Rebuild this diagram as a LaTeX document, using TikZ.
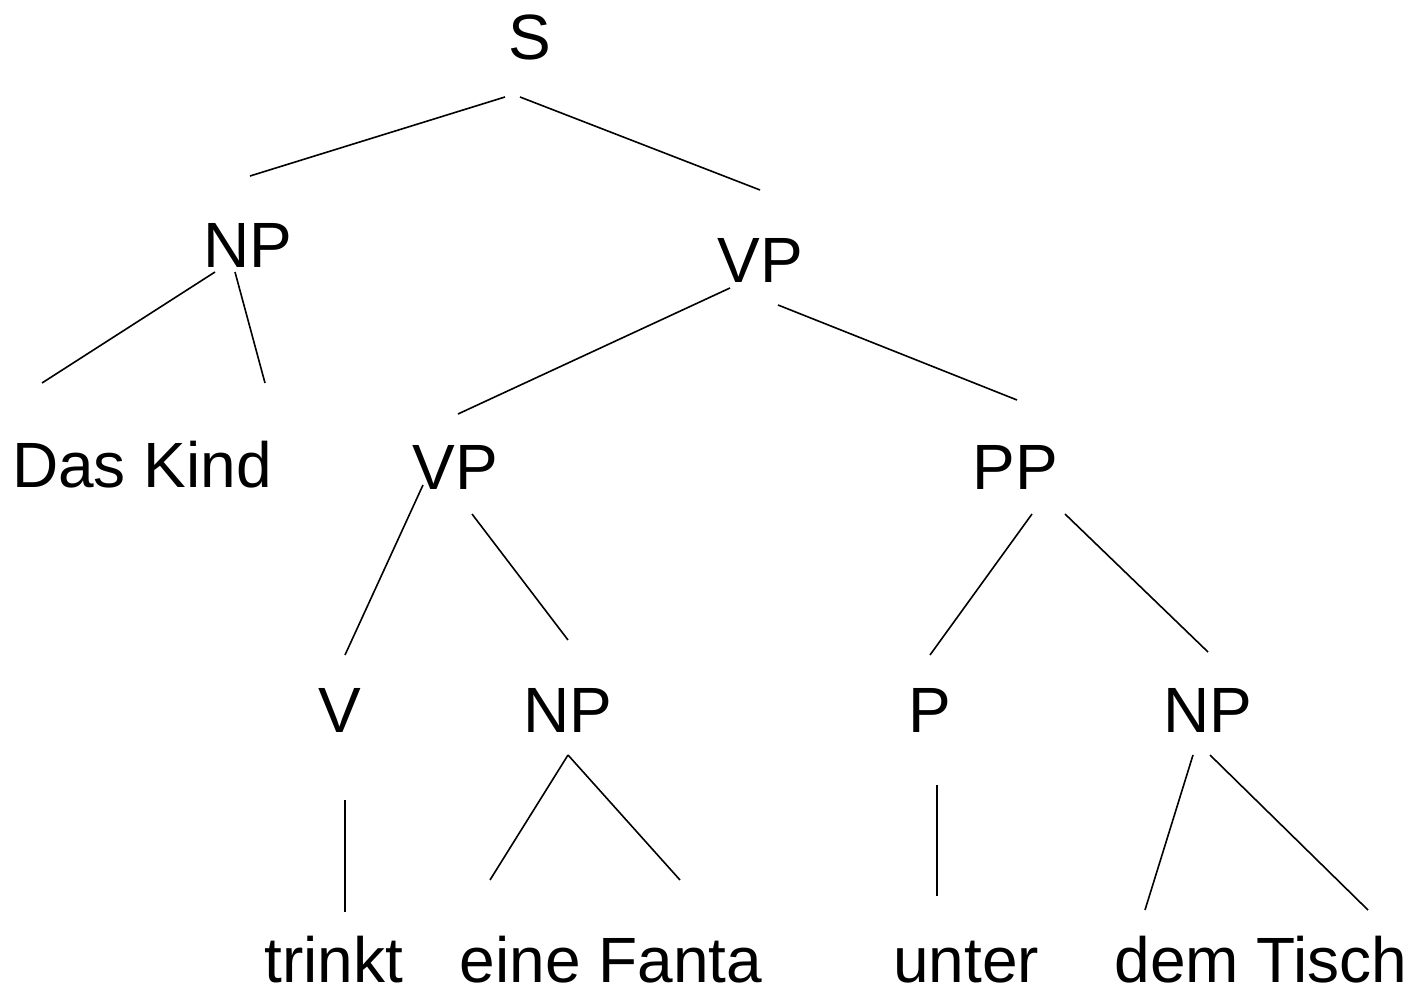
\documentclass[tikz,border=0pt]{standalone}
\usepackage{fontspec}
\setmainfont{Liberation Sans}
\begin{document}
\begin{tikzpicture}[x=0.5pt,y=-0.5pt,
  lbl/.style={anchor=base,inner sep=0pt,font=\fontsize{32}{38}\selectfont},
  edge/.style={line width=0.8pt,black}]
\useasboundingbox (0,0) rectangle (1425,989);

% category labels and words
\node[lbl] (S)     at (530,60)  {S};
\node[lbl] (NPa)   at (248,268) {NP};
\node[lbl] (VPa)   at (760,283) {VP};
\node[lbl] (DK)    at (142,488) {Das Kind};
\node[lbl] (VPb)   at (455,490) {VP};
\node[lbl] (PP)    at (1015,490) {PP};
\node[lbl] (V)     at (340,732) {V};
\node[lbl] (NPb)   at (568,732) {NP};
\node[lbl] (P)     at (930,732) {P};
\node[lbl] (NPc)   at (1208,732) {NP};
\node[lbl] (trinkt) at (334,982) {trinkt};
\node[lbl] (EF)    at (611,982) {eine Fanta};
\node[lbl] (unter) at (966,982) {unter};
\node[lbl] (DT)    at (1261,982) {dem Tisch};

% branch end points
\coordinate (S-l) at (505,97);   \coordinate (NPa-t) at (250,176);
\coordinate (S-r) at (520,97);   \coordinate (VPa-t) at (760,190);
\coordinate (NPa-l) at (215,272); \coordinate (DK-l) at (42,383);
\coordinate (NPa-r) at (235,272); \coordinate (DK-r) at (265,383);
\coordinate (VPa-l) at (730,288); \coordinate (VPb-t) at (458,414);
\coordinate (VPa-r) at (778,305); \coordinate (PP-t) at (1017,400);
\coordinate (VPb-l) at (423,485); \coordinate (V-t) at (345,655);
\coordinate (VPb-r) at (472,514); \coordinate (NPb-t) at (568,640);
\coordinate (PP-l) at (1032,514); \coordinate (P-t) at (930,655);
\coordinate (PP-r) at (1065,514); \coordinate (NPc-t) at (1208,652);
\coordinate (V-b) at (345,800);   \coordinate (trinkt-t) at (345,912);
\coordinate (NPb-b) at (568,755); \coordinate (EF-l) at (490,880);
                                  \coordinate (EF-r) at (680,880);
\coordinate (P-b) at (937,785);   \coordinate (unter-t) at (937,896);
\coordinate (NPc-l) at (1193,755); \coordinate (DT-l) at (1145,910);
\coordinate (NPc-r) at (1210,755); \coordinate (DT-r) at (1368,910);

% branches
\draw[edge] (S-l) -- (NPa-t);
\draw[edge] (S-r) -- (VPa-t);
\draw[edge] (NPa-l) -- (DK-l);
\draw[edge] (NPa-r) -- (DK-r);
\draw[edge] (VPa-l) -- (VPb-t);
\draw[edge] (VPa-r) -- (PP-t);
\draw[edge] (VPb-l) -- (V-t);
\draw[edge] (VPb-r) -- (NPb-t);
\draw[edge] (PP-l) -- (P-t);
\draw[edge] (PP-r) -- (NPc-t);
\draw[edge] (V-b) -- (trinkt-t);
\draw[edge] (NPb-b) -- (EF-l);
\draw[edge] (NPb-b) -- (EF-r);
\draw[edge] (P-b) -- (unter-t);
\draw[edge] (NPc-l) -- (DT-l);
\draw[edge] (NPc-r) -- (DT-r);
\end{tikzpicture}
\end{document}
